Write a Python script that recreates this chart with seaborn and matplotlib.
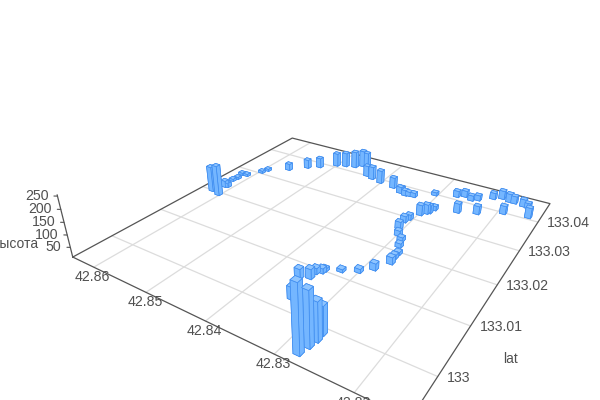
import numpy as np
import pandas as pd
import seaborn as sns
import matplotlib
matplotlib.use("Agg")
import matplotlib.pyplot as plt
from mpl_toolkits.mplot3d import proj3d

x_values = [42.8621, 42.8603, 42.8614, 42.8610, 42.8618, 42.8616, 42.8620, 42.8610, 42.8596, 42.8592,
            42.8563, 42.8540, 42.8523, 42.8501, 42.8486, 42.8470, 42.8460, 42.8454, 42.8434, 42.8421,
            42.8402, 42.8375, 42.8357, 42.8356, 42.8346, 42.8340, 42.8332, 42.8305, 42.8273, 42.8262,
            42.8249, 42.8240, 42.8221, 42.8209, 42.8196, 42.8188, 42.8173, 42.8165, 42.8156, 42.8192,
            42.8226, 42.8253, 42.8298, 42.8292, 42.8289, 42.8286, 42.8306, 42.8309, 42.8307, 42.8299,
            42.8289, 42.8284, 42.8277, 42.8277, 42.8275, 42.8287, 42.8301, 42.8321, 42.8340, 42.8341,
            42.8347, 42.8347, 42.8359, 42.8341, 42.8279, 42.8276, 42.8274, 42.8275]
lat_values = [133.0200, 133.0194, 133.0224, 133.0226, 133.0250, 133.0261, 133.0279, 133.0280, 133.0306, 133.0319,
              133.0344, 133.0371, 133.0386, 133.0410, 133.0417, 133.0423, 133.0435, 133.0439, 133.0402, 133.0396,
              133.0390, 133.0385, 133.0374, 133.0377, 133.0370, 133.0372, 133.0373, 133.0399, 133.0414, 133.0422,
              133.0415, 133.0422, 133.0441, 133.0450, 133.0445, 133.0445, 133.0442, 133.0440, 133.0408, 133.0399,
              133.0375, 133.0362, 133.0321, 133.0331, 133.0335, 133.0349, 133.0298, 133.0286, 133.0263, 133.0244,
              133.0232, 133.0215, 133.0196, 133.0184, 133.0169, 133.0143, 133.0126, 133.0114, 133.0103, 133.0097,
              133.0091, 133.0077, 133.0069, 133.0026, 132.9947, 132.9963, 132.9977, 132.9990]
heights = [122, 144, 39, 29, 20, 20, 20, 20, 20, 20,
           40, 50, 55, 70, 75, 85, 85, 75, 59, 68,
           68, 58, 38, 34, 34, 29, 29, 24, 38, 38,
           33, 33, 38, 47, 47, 42, 42, 33, 55, 46,
           46, 51, 55, 51, 46, 28, 32, 37, 41, 32,
           27, 27, 23, 27, 39, 38, 26, 22, 22, 30,
           34, 50, 50, 60, 260, 214, 156, 119]

x_ticks = [42.82, 42.83, 42.84, 42.85, 42.86]
lat_ticks = [133.0, 133.01, 133.02, 133.03, 133.04]
lat_labels = ["133", "133.01", "133.02", "133.03", "133.04"]
z_ticks = [50, 100, 150, 200, 250]

xmin, xmax = 42.8139, 42.8644
ymin, ymax = 132.993, 133.0474
zmin, zmax = 10, 255

sns.set_theme(style="white")
plt.rcParams["font.family"] = ["Liberation Sans", "DejaVu Sans"]

TEXT = "#505050"
AXIS = "#555555"
GRID = "#dcdcdc"
SIDE = "#74b6ff"
TOP = "#8fc5ff"

df = pd.DataFrame({"x": x_values, "lat": lat_values, "h": heights})

fig = plt.figure(figsize=(6, 4), dpi=100)
ax = fig.add_axes([0.132, -0.126, 0.8138, 1.2207], projection="3d")
ax.computed_zorder = False
ax.set_xlim(xmax, xmin)
ax.set_ylim(ymin, ymax)
ax.set_zlim(zmin, zmax)
ax.view_init(elev=28.254, azim=-57.206)
ax.set_proj_type("persp", focal_length=0.2205)
ax.set_box_aspect((0.9992, 1.0, 0.1891))
ax.set_axis_off()

# floor grid
for v in x_ticks:
    ax.plot([v, v], [ymin, ymax], [zmin, zmin], color=GRID, lw=0.9, zorder=1, clip_on=False)
for v in lat_ticks:
    ax.plot([xmin, xmax], [v, v], [zmin, zmin], color=GRID, lw=0.9, zorder=1, clip_on=False)

# floor outline and z axis
ax.plot([xmax, xmin, xmin, xmax, xmax], [ymin, ymin, ymax, ymax, ymin], [zmin] * 5,
        color=AXIS, lw=0.9, zorder=2, clip_on=False)
ax.plot([xmax, xmax], [ymin, ymin], [zmin, zmax], color=AXIS, lw=0.9, zorder=2, clip_on=False)
for v in z_ticks:
    ax.plot([xmax, xmax + 0.0004], [ymin, ymin - 0.00025], [v, v], color=AXIS, lw=0.8,
            zorder=2, clip_on=False)

# bars, faces per bar are bottom, top and the four sides
d = 0.0009
face_colors = [SIDE, TOP, SIDE, SIDE, SIDE, SIDE] * len(df)
ax.bar3d(df["x"] - d / 2, df["lat"] - d / 2, np.full(len(df), zmin), d, d, df["h"] - zmin,
         color=face_colors, edgecolor="#3f8df0", linewidth=0.5, shade=False, zorder=3)

M = ax.get_proj()


def label(x, y, z, text, dx, dy, **kw):
    px, py, _ = proj3d.proj_transform(x, y, z, M)
    ax.annotate(text, xy=(px, py), xytext=(dx, dy), textcoords="offset pixels",
                color=TEXT, annotation_clip=False, **kw)


for v in x_ticks:
    label(v, ymin, zmin, f"{v:.2f}", -1, -10, ha="center", va="center", fontsize=10.2)
for v, t in zip(lat_ticks, lat_labels):
    label(xmin, v, zmin, t, 9, -1, ha="left", va="center", fontsize=10.2)
for v in z_ticks:
    label(xmax, ymin, v, str(v), -9, 0, ha="right", va="center", fontsize=10.2)

label(xmin, 133.005, zmin, "lat", 55, -9, ha="center", va="center", fontsize=10)
label(xmax, ymin, 75, "высота", -30.5, -2.5, ha="right", va="center", fontsize=10)

fig.savefig("out.png", dpi=100)
